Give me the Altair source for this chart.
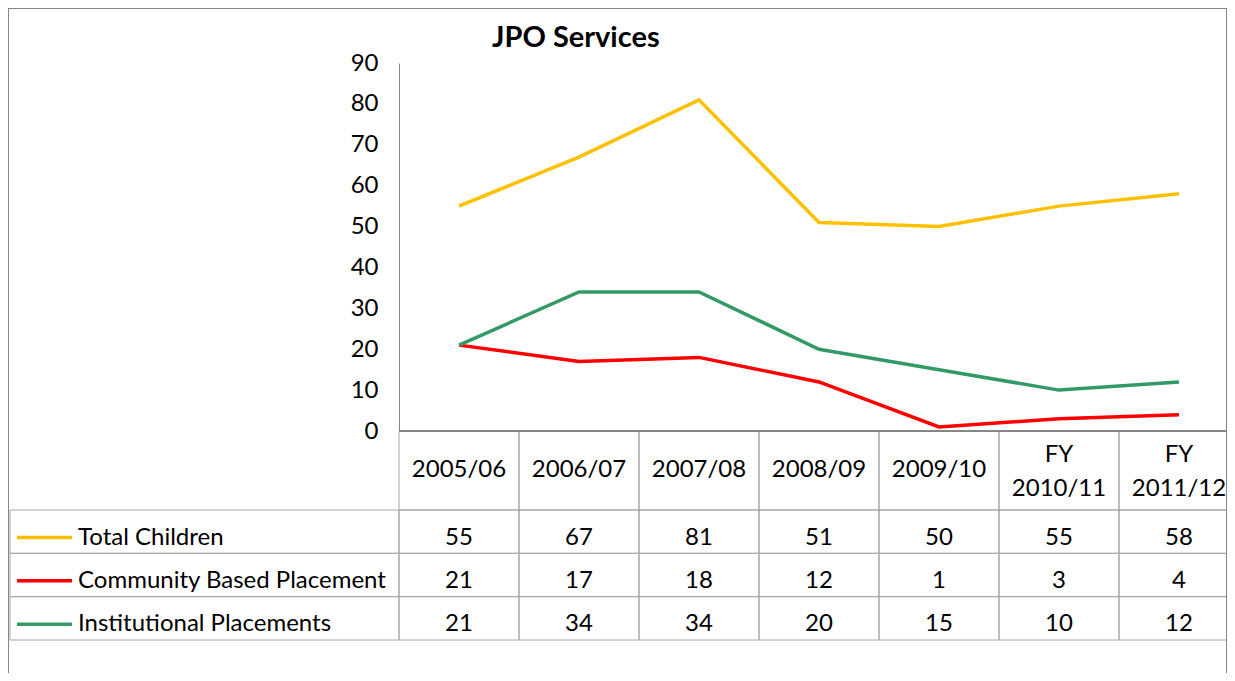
import altair as alt
import pandas as pd

categories = ["2005/06", "2006/07", "2007/08", "2008/09", "2009/10", "FY 2010/11", "FY 2011/12"]
header_labels = ["2005/06", "2006/07", "2007/08", "2008/09", "2009/10", "FY\n2010/11", "FY\n2011/12"]
series_names = ["Total Children", "Community Based Placement", "Institutional Placements"]
total_children = [55, 67, 81, 51, 50, 55, 58]
community_based = [21, 17, 18, 12, 1, 3, 4]
institutional = [21, 34, 34, 20, 15, 10, 12]
series_colors = ["#FFC000", "#FF0000", "#339966"]
y_ticks = [0, 10, 20, 30, 40, 50, 60, 70, 80, 90]
chart_title = ["JPO Services"]

FONT = "Lato"
FS = 24
GRID = "#a6a6a6"

rows = []
for name, vals in zip(series_names, [total_children, community_based, institutional]):
    for c, v in zip(categories, vals):
        rows.append({"category": c, "series": name, "value": v})
df = pd.DataFrame(rows)
hdr = pd.DataFrame({"category": categories, "header": header_labels,
                    "lines": [h.count("\n") + 1 for h in header_labels]})
ser = pd.DataFrame({"series": series_names})
ttl = pd.DataFrame({"title": chart_title})

x_scale = alt.Scale(domain=categories, range=[0, 840], paddingInner=0, paddingOuter=0)
color_scale = alt.Scale(domain=series_names, range=series_colors)
row_scale = alt.Scale(domain=series_names, range=[447, 577], paddingInner=0, paddingOuter=0)

lines = alt.Chart(df).mark_line(strokeWidth=3.5).encode(
    x=alt.X("category:N", scale=x_scale, axis=None, bandPosition=0.5, sort=categories),
    y=alt.Y("value:Q", scale=alt.Scale(domain=[0, 90], nice=False),
            axis=alt.Axis(values=y_ticks, ticks=False, grid=False, domainColor="#868686",
                          labelFontSize=FS, labelFont=FONT, labelColor="black",
                          labelPadding=21, title=None)),
    color=alt.Color("series:N", scale=color_scale, legend=None),
    detail="series:N",
)

# table parts
header_cells = alt.Chart(hdr).mark_rect(fill="white", fillOpacity=0, stroke=GRID, strokeWidth=1).encode(
    x=alt.X("category:N", scale=x_scale, axis=None, sort=categories),
    y=alt.value(368), y2=alt.value(447),
)
header_text1 = alt.Chart(hdr).transform_filter("datum.lines == 1").mark_text(
    font=FONT, fontSize=FS, color="black", baseline="middle").encode(
    x=alt.X("category:N", scale=x_scale, axis=None, bandPosition=0.5, sort=categories),
    y=alt.value(407),
    text="header:N",
)
header_text2 = alt.Chart(hdr).transform_filter("datum.lines == 2").mark_text(
    font=FONT, fontSize=FS, color="black", lineBreak="\n", baseline="middle", lineHeight=34).encode(
    x=alt.X("category:N", scale=x_scale, axis=None, bandPosition=0.5, sort=categories),
    y=alt.value(392),
    text="header:N",
)
axis_line = alt.Chart(hdr).mark_rule(color="#868686", strokeWidth=1).encode(
    x=alt.value(0), x2=alt.value(840), y=alt.value(368),
)

value_cells = alt.Chart(df).mark_rect(fill="white", fillOpacity=0, stroke=GRID, strokeWidth=1).encode(
    x=alt.X("category:N", scale=x_scale, axis=None, sort=categories),
    y=alt.Y("series:N", scale=row_scale, axis=None, sort=series_names),
)
value_text = alt.Chart(df).mark_text(font=FONT, fontSize=FS, color="black", baseline="middle", dy=6).encode(
    x=alt.X("category:N", scale=x_scale, axis=None, bandPosition=0.5, sort=categories),
    y=alt.Y("series:N", scale=row_scale, axis=None, sort=series_names, bandPosition=0.5),
    text="value:Q",
)
label_cells = alt.Chart(ser).mark_rect(fill="white", fillOpacity=0, stroke=GRID, strokeWidth=1).encode(
    x=alt.value(-389), x2=alt.value(0),
    y=alt.Y("series:N", scale=row_scale, axis=None, sort=series_names),
)
swatches = alt.Chart(ser).mark_rule(strokeWidth=3.5).encode(
    x=alt.value(-382), x2=alt.value(-327),
    y=alt.Y("series:N", scale=row_scale, axis=None, sort=series_names),
    color=alt.Color("series:N", scale=color_scale, legend=None),
    yOffset=alt.value(27.5),
)
label_text = alt.Chart(ser).mark_text(font=FONT, fontSize=FS, color="black", align="left",
                                      baseline="middle", dy=6).encode(
    x=alt.value(-321),
    y=alt.Y("series:N", scale=row_scale, axis=None, sort=series_names, bandPosition=0.5),
    text="series:N",
)

table = alt.layer(value_cells, label_cells, value_text, swatches, label_text)

title_text = alt.Chart(ttl).mark_text(font=FONT, fontSize=29, fontWeight="bold", color="black",
                                      align="left", baseline="alphabetic").encode(
    x=alt.value(93), y=alt.value(-16), text="title:N",
)

border = alt.Chart(ser).mark_rule(color="#868686", strokeWidth=1)
border_left = border.encode(x=alt.value(-390.5), y=alt.value(-54.5), y2=alt.value(610))
border_top = border.encode(x=alt.value(-390.5), x2=alt.value(827.5), y=alt.value(-54.5))
border_right = border.encode(x=alt.value(827.5), y=alt.value(-54.5), y2=alt.value(610))

chart = alt.layer(
    header_cells, header_text1, header_text2, axis_line, table, lines, title_text,
    border_left, border_top, border_right
).resolve_scale(y="independent").properties(
    width=828, height=368,
    padding={"left": 391, "top": 55, "right": 0, "bottom": 242},
    autosize=alt.AutoSizeParams(type="none"),
    background="white",
).configure_view(stroke=None)

chart.save("out.html", embed_options={"renderer": "svg", "actions": False})
